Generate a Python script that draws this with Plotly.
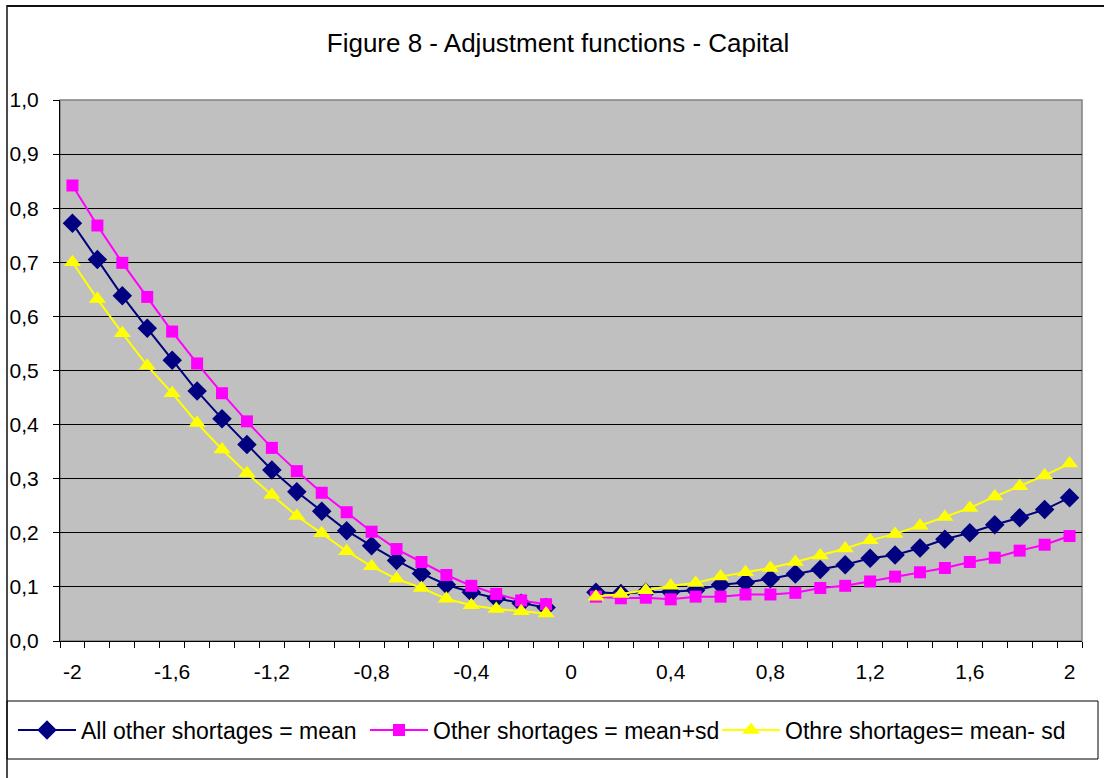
import plotly.graph_objects as go

# ---- data -------------------------------------------------------------
x_values = [-2.0, -1.9, -1.8, -1.7, -1.6, -1.5, -1.4, -1.3, -1.2, -1.1,
            -1.0, -0.9, -0.8, -0.7, -0.6, -0.5, -0.4, -0.3, -0.2, -0.1,
            0.0,
            0.1, 0.2, 0.3, 0.4, 0.5, 0.6, 0.7, 0.8, 0.9, 1.0,
            1.1, 1.2, 1.3, 1.4, 1.5, 1.6, 1.7, 1.8, 1.9, 2.0]

mean_vals = [0.772, 0.705, 0.638, 0.578, 0.519, 0.462, 0.411, 0.363, 0.316, 0.276,
             0.240, 0.204, 0.176, 0.149, 0.125, 0.104, 0.090, 0.079, 0.070, 0.062,
             None,
             0.090, 0.088, 0.090, 0.091, 0.094, 0.104, 0.108, 0.115, 0.124, 0.132,
             0.141, 0.153, 0.159, 0.172, 0.188, 0.200, 0.215, 0.228, 0.243, 0.265]

plus_sd_vals = [0.842, 0.768, 0.699, 0.636, 0.572, 0.513, 0.458, 0.406, 0.357, 0.314,
                0.274, 0.238, 0.202, 0.170, 0.146, 0.122, 0.102, 0.087, 0.075, 0.068,
                None,
                0.082, 0.079, 0.080, 0.077, 0.082, 0.082, 0.086, 0.086, 0.089, 0.098,
                0.102, 0.110, 0.119, 0.127, 0.135, 0.146, 0.154, 0.167, 0.178, 0.194]

minus_sd_vals = [0.700, 0.632, 0.569, 0.509, 0.458, 0.403, 0.354, 0.310, 0.270, 0.231,
                 0.199, 0.166, 0.138, 0.115, 0.098, 0.078, 0.066, 0.059, 0.055, 0.051,
                 None,
                 0.082, 0.087, 0.094, 0.102, 0.107, 0.119, 0.127, 0.135, 0.146, 0.158,
                 0.171, 0.186, 0.198, 0.213, 0.229, 0.246, 0.267, 0.286, 0.306, 0.328]

series_names = ["All other shortages = mean",
                "Other shortages = mean+sd",
                "Othre shortages= mean- sd"]

x_tick_vals = [-2.0, -1.6, -1.2, -0.8, -0.4, 0.0, 0.4, 0.8, 1.2, 1.6, 2.0]
x_tick_text = ["-2", "-1,6", "-1,2", "-0,8", "-0,4", "0", "0,4", "0,8", "1,2", "1,6", "2"]
x_boundaries = [-2.05 + 0.1 * i for i in range(42)]

y_tick_vals = [0.0, 0.1, 0.2, 0.3, 0.4, 0.5, 0.6, 0.7, 0.8, 0.9, 1.0]
y_tick_text = ["0,0", "0,1", "0,2", "0,3", "0,4", "0,5", "0,6", "0,7", "0,8", "0,9", "1,0"]

# ---- figure -----------------------------------------------------------
FONT = "Liberation Sans, Arial, sans-serif"

fig = go.Figure()
fig.add_trace(go.Scatter(
    x=x_values, y=mean_vals, name=series_names[0], mode="lines+markers",
    line=dict(color="#000080", width=2),
    marker=dict(symbol="diamond", size=15, color="#000080", line=dict(width=0)),
    connectgaps=False))
fig.add_trace(go.Scatter(
    x=x_values, y=plus_sd_vals, name=series_names[1], mode="lines+markers",
    line=dict(color="#FF00FF", width=2),
    marker=dict(symbol="square", size=12, color="#FF00FF", line=dict(width=0)),
    connectgaps=False))
fig.add_trace(go.Scatter(
    x=x_values, y=minus_sd_vals, name=series_names[2], mode="lines+markers",
    line=dict(color="#FFFF00", width=2),
    marker=dict(symbol="triangle-up", size=15, color="#FFFF00", line=dict(width=0)),
    connectgaps=False))

W, H = 1104, 778
L, R, T, B = 60, 22, 100, 137
pw, ph = W - L - R, H - T - B


def px(xpix):
    return (xpix - L) / pw


def py(ypix):
    return (H - B - ypix) / ph


shapes = [
    # outer chart frame: left edge and top edge
    dict(type="line", xref="paper", yref="paper", x0=px(7), x1=px(7), y0=py(5), y1=py(800),
         line=dict(color="#111111", width=1.5)),
    dict(type="line", xref="paper", yref="paper", x0=px(7), x1=px(1104), y0=py(6), y1=py(6),
         line=dict(color="#111111", width=2)),
    # legend box
    dict(type="rect", xref="paper", yref="paper", x0=px(7), x1=px(1098), y0=py(759), y1=py(701),
         line=dict(color="#000000", width=1), fillcolor="rgba(0,0,0,0)"),
    # plot area border (grey)
    dict(type="rect", xref="paper", yref="paper", x0=0, x1=1, y0=0, y1=1,
         line=dict(color="#808080", width=1.5), fillcolor="rgba(0,0,0,0)", layer="below"),
]

fig.update_layout(
    width=W, height=H,
    margin=dict(l=L, r=R, t=T, b=B, autoexpand=False),
    paper_bgcolor="#FFFFFF",
    plot_bgcolor="#C0C0C0",
    font=dict(family=FONT, size=21, color="#000000"),
    title=dict(text="Figure 8 - Adjustment functions - Capital",
               x=558 / W, xref="container", xanchor="center",
               y=1 - 43 / H, yref="container", yanchor="middle",
               font=dict(family=FONT, size=26, color="#000000")),
    showlegend=True,
    legend=dict(orientation="h", x=px(13), xanchor="left", y=py(730), yanchor="middle",
                bgcolor="rgba(0,0,0,0)", borderwidth=0,
                font=dict(family=FONT, size=23, color="#000000"),
                entrywidth=279, entrywidthmode="pixels", itemwidth=58,
                traceorder="normal"),
    shapes=shapes,
    xaxis=dict(
        range=[-2.05, 2.05], showgrid=False, zeroline=False,
        tickmode="array", tickvals=x_tick_vals, ticktext=x_tick_text,
        ticks="outside", ticklen=6, tickcolor="rgba(0,0,0,0)",
        ticklabelstandoff=6,
        showline=True, linecolor="#000000", linewidth=1,
        minor=dict(tickmode="array", tickvals=x_boundaries, ticks="outside",
                   ticklen=6, tickcolor="#000000", tickwidth=1, showgrid=False),
        tickfont=dict(family=FONT, size=21, color="#000000"),
    ),
    yaxis=dict(
        range=[0, 1.0], showgrid=True, gridcolor="#000000", gridwidth=1,
        zeroline=False,
        tickmode="array", tickvals=y_tick_vals, ticktext=y_tick_text,
        ticks="outside", ticklen=6, tickcolor="#000000", tickwidth=1,
        ticklabelstandoff=10,
        showline=True, linecolor="#000000", linewidth=1,
        tickfont=dict(family=FONT, size=21, color="#000000"),
    ),
)

fig.write_html("out.html",
               config={"displayModeBar": False},
               post_script="document.body.style.margin='0px';document.body.style.overflow='hidden';")
